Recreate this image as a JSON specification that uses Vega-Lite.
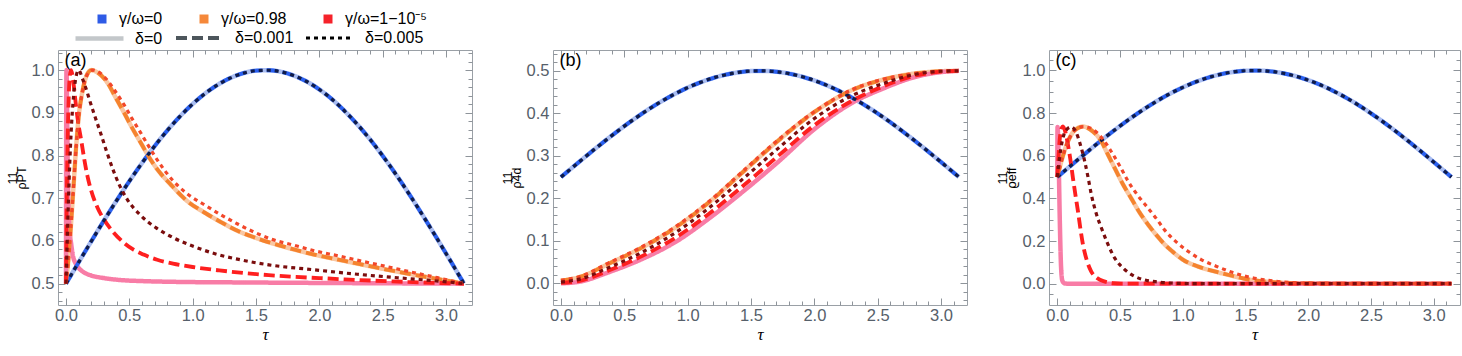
{
"$schema": "https://vega.github.io/schema/vega-lite/v6.json",
"background": "white",
"padding": {"left": 5, "top": 10, "right": 5, "bottom": 0},
"spacing": 27,
"config": {"view": {"stroke": "#9aa0a6", "strokeWidth": 1}},
"datasets": {
"ser": [{"s":"1b","d":"δ=0"},{"s":"1o","d":"δ=0"},{"s":"1r","d":"δ=0"},{"s":"2b","d":"δ=0.001"},{"s":"2o","d":"δ=0.001"},{"s":"2r","d":"δ=0.001"},{"s":"3b","d":"δ=0.005"},{"s":"3o","d":"δ=0.005"},{"s":"3r","d":"δ=0.005"}],
"a": [
{"s":"1b","t":0,"v":0.5},{"s":"1b","t":0.1,"v":0.5499},{"s":"1b","t":0.2,"v":0.5993},{"s":"1b","t":0.3,"v":0.6478},{"s":"1b","t":0.4,"v":0.6947},{"s":"1b","t":0.5,"v":0.7397},{"s":"1b","t":0.6,"v":0.7823},{"s":"1b","t":0.7,"v":0.8221},{"s":"1b","t":0.8,"v":0.8587},{"s":"1b","t":0.9,"v":0.8917},{"s":"1b","t":1,"v":0.9207},{"s":"1b","t":1.1,"v":0.9456},{"s":"1b","t":1.2,"v":0.966},{"s":"1b","t":1.3,"v":0.9818},{"s":"1b","t":1.4,"v":0.9927},{"s":"1b","t":1.5,"v":0.9987},{"s":"1b","t":1.6,"v":0.9996},{"s":"1b","t":1.7,"v":0.9958},{"s":"1b","t":1.8,"v":0.9869},{"s":"1b","t":1.9,"v":0.9732},{"s":"1b","t":2,"v":0.9546},{"s":"1b","t":2.1,"v":0.9316},{"s":"1b","t":2.2,"v":0.9041},{"s":"1b","t":2.3,"v":0.8728},{"s":"1b","t":2.4,"v":0.8378},{"s":"1b","t":2.5,"v":0.7992},{"s":"1b","t":2.6,"v":0.7578},{"s":"1b","t":2.7,"v":0.7137},{"s":"1b","t":2.8,"v":0.6675},{"s":"1b","t":2.9,"v":0.6196},{"s":"1b","t":3,"v":0.5706},{"s":"1b","t":3.1,"v":0.5208},{"s":"1b","t":3.1416,"v":0.5},
{"s":"1o","t":0,"v":0.5},{"s":"1o","t":0.02,"v":0.56},{"s":"1o","t":0.04,"v":0.64},{"s":"1o","t":0.06,"v":0.73},{"s":"1o","t":0.08,"v":0.82},{"s":"1o","t":0.1,"v":0.89},{"s":"1o","t":0.13,"v":0.95},{"s":"1o","t":0.16,"v":0.985},{"s":"1o","t":0.2,"v":1.0},{"s":"1o","t":0.25,"v":0.994},{"s":"1o","t":0.328,"v":0.97},{"s":"1o","t":0.39,"v":0.937},{"s":"1o","t":0.459,"v":0.9},{"s":"1o","t":0.52,"v":0.866},{"s":"1o","t":0.59,"v":0.83},{"s":"1o","t":0.65,"v":0.799},{"s":"1o","t":0.72,"v":0.768},{"s":"1o","t":0.833,"v":0.73},{"s":"1o","t":0.95,"v":0.695},{"s":"1o","t":1.096,"v":0.666},{"s":"1o","t":1.23,"v":0.643},{"s":"1o","t":1.359,"v":0.623},{"s":"1o","t":1.49,"v":0.608},{"s":"1o","t":1.622,"v":0.595},{"s":"1o","t":1.8,"v":0.58},{"s":"1o","t":1.96,"v":0.568},{"s":"1o","t":2.15,"v":0.556},{"s":"1o","t":2.33,"v":0.545},{"s":"1o","t":2.53,"v":0.533},{"s":"1o","t":2.727,"v":0.522},{"s":"1o","t":2.93,"v":0.511},{"s":"1o","t":3.1416,"v":0.5},
{"s":"1r","t":0,"v":0.5},{"s":"1r","t":0.002,"v":0.9},{"s":"1r","t":0.004,"v":1.0},{"s":"1r","t":0.006,"v":0.98},{"s":"1r","t":0.01,"v":0.87},{"s":"1r","t":0.015,"v":0.75},{"s":"1r","t":0.02,"v":0.68},{"s":"1r","t":0.03,"v":0.62},{"s":"1r","t":0.04,"v":0.595},{"s":"1r","t":0.055,"v":0.565},{"s":"1r","t":0.075,"v":0.548},{"s":"1r","t":0.1,"v":0.537},{"s":"1r","t":0.15,"v":0.525},{"s":"1r","t":0.2,"v":0.519},{"s":"1r","t":0.3,"v":0.513},{"s":"1r","t":0.45,"v":0.508},{"s":"1r","t":0.6,"v":0.506},{"s":"1r","t":0.9,"v":0.504},{"s":"1r","t":1.3,"v":0.503},{"s":"1r","t":1.8,"v":0.502},{"s":"1r","t":2.4,"v":0.501},{"s":"1r","t":3.1416,"v":0.5},
{"s":"2b","t":0,"v":0.5},{"s":"2b","t":0.1,"v":0.5499},{"s":"2b","t":0.2,"v":0.5993},{"s":"2b","t":0.3,"v":0.6478},{"s":"2b","t":0.4,"v":0.6947},{"s":"2b","t":0.5,"v":0.7397},{"s":"2b","t":0.6,"v":0.7823},{"s":"2b","t":0.7,"v":0.8221},{"s":"2b","t":0.8,"v":0.8587},{"s":"2b","t":0.9,"v":0.8917},{"s":"2b","t":1,"v":0.9207},{"s":"2b","t":1.1,"v":0.9456},{"s":"2b","t":1.2,"v":0.966},{"s":"2b","t":1.3,"v":0.9818},{"s":"2b","t":1.4,"v":0.9927},{"s":"2b","t":1.5,"v":0.9987},{"s":"2b","t":1.6,"v":0.9996},{"s":"2b","t":1.7,"v":0.9958},{"s":"2b","t":1.8,"v":0.9869},{"s":"2b","t":1.9,"v":0.9732},{"s":"2b","t":2,"v":0.9546},{"s":"2b","t":2.1,"v":0.9316},{"s":"2b","t":2.2,"v":0.9041},{"s":"2b","t":2.3,"v":0.8728},{"s":"2b","t":2.4,"v":0.8378},{"s":"2b","t":2.5,"v":0.7992},{"s":"2b","t":2.6,"v":0.7578},{"s":"2b","t":2.7,"v":0.7137},{"s":"2b","t":2.8,"v":0.6675},{"s":"2b","t":2.9,"v":0.6196},{"s":"2b","t":3,"v":0.5706},{"s":"2b","t":3.1,"v":0.5208},{"s":"2b","t":3.1416,"v":0.5},
{"s":"2o","t":0,"v":0.5},{"s":"2o","t":0.02,"v":0.56},{"s":"2o","t":0.04,"v":0.64},{"s":"2o","t":0.06,"v":0.73},{"s":"2o","t":0.08,"v":0.82},{"s":"2o","t":0.1,"v":0.89},{"s":"2o","t":0.13,"v":0.95},{"s":"2o","t":0.16,"v":0.985},{"s":"2o","t":0.2,"v":1.0},{"s":"2o","t":0.25,"v":0.994},{"s":"2o","t":0.328,"v":0.97},{"s":"2o","t":0.39,"v":0.937},{"s":"2o","t":0.459,"v":0.9},{"s":"2o","t":0.52,"v":0.866},{"s":"2o","t":0.59,"v":0.83},{"s":"2o","t":0.65,"v":0.799},{"s":"2o","t":0.72,"v":0.768},{"s":"2o","t":0.833,"v":0.73},{"s":"2o","t":0.95,"v":0.695},{"s":"2o","t":1.096,"v":0.666},{"s":"2o","t":1.23,"v":0.643},{"s":"2o","t":1.359,"v":0.623},{"s":"2o","t":1.49,"v":0.608},{"s":"2o","t":1.622,"v":0.595},{"s":"2o","t":1.8,"v":0.58},{"s":"2o","t":1.96,"v":0.568},{"s":"2o","t":2.15,"v":0.556},{"s":"2o","t":2.33,"v":0.545},{"s":"2o","t":2.53,"v":0.533},{"s":"2o","t":2.727,"v":0.522},{"s":"2o","t":2.93,"v":0.511},{"s":"2o","t":3.1416,"v":0.5},
{"s":"2r","t":0,"v":0.5},{"s":"2r","t":0.005,"v":0.66},{"s":"2r","t":0.01,"v":0.78},{"s":"2r","t":0.02,"v":0.92},{"s":"2r","t":0.03,"v":0.985},{"s":"2r","t":0.04,"v":1.0},{"s":"2r","t":0.05,"v":0.99},{"s":"2r","t":0.065,"v":0.955},{"s":"2r","t":0.08,"v":0.914},{"s":"2r","t":0.1,"v":0.87},{"s":"2r","t":0.12,"v":0.836},{"s":"2r","t":0.145,"v":0.79},{"s":"2r","t":0.17,"v":0.751},{"s":"2r","t":0.2,"v":0.717},{"s":"2r","t":0.25,"v":0.677},{"s":"2r","t":0.3,"v":0.65},{"s":"2r","t":0.375,"v":0.62},{"s":"2r","t":0.456,"v":0.596},{"s":"2r","t":0.53,"v":0.58},{"s":"2r","t":0.612,"v":0.568},{"s":"2r","t":0.72,"v":0.556},{"s":"2r","t":0.845,"v":0.547},{"s":"2r","t":1.0,"v":0.539},{"s":"2r","t":1.21,"v":0.531},{"s":"2r","t":1.4,"v":0.525},{"s":"2r","t":1.6,"v":0.52},{"s":"2r","t":1.8,"v":0.516},{"s":"2r","t":2.0,"v":0.513},{"s":"2r","t":2.2,"v":0.51},{"s":"2r","t":2.43,"v":0.507},{"s":"2r","t":2.7,"v":0.504},{"s":"2r","t":2.9,"v":0.502},{"s":"2r","t":3.1416,"v":0.5},
{"s":"3b","t":0,"v":0.5},{"s":"3b","t":0.1,"v":0.5499},{"s":"3b","t":0.2,"v":0.5993},{"s":"3b","t":0.3,"v":0.6478},{"s":"3b","t":0.4,"v":0.6947},{"s":"3b","t":0.5,"v":0.7397},{"s":"3b","t":0.6,"v":0.7823},{"s":"3b","t":0.7,"v":0.8221},{"s":"3b","t":0.8,"v":0.8587},{"s":"3b","t":0.9,"v":0.8917},{"s":"3b","t":1,"v":0.9207},{"s":"3b","t":1.1,"v":0.9456},{"s":"3b","t":1.2,"v":0.966},{"s":"3b","t":1.3,"v":0.9818},{"s":"3b","t":1.4,"v":0.9927},{"s":"3b","t":1.5,"v":0.9987},{"s":"3b","t":1.6,"v":0.9996},{"s":"3b","t":1.7,"v":0.9958},{"s":"3b","t":1.8,"v":0.9869},{"s":"3b","t":1.9,"v":0.9732},{"s":"3b","t":2,"v":0.9546},{"s":"3b","t":2.1,"v":0.9316},{"s":"3b","t":2.2,"v":0.9041},{"s":"3b","t":2.3,"v":0.8728},{"s":"3b","t":2.4,"v":0.8378},{"s":"3b","t":2.5,"v":0.7992},{"s":"3b","t":2.6,"v":0.7578},{"s":"3b","t":2.7,"v":0.7137},{"s":"3b","t":2.8,"v":0.6675},{"s":"3b","t":2.9,"v":0.6196},{"s":"3b","t":3,"v":0.5706},{"s":"3b","t":3.1,"v":0.5208},{"s":"3b","t":3.1416,"v":0.5},
{"s":"3o","t":0,"v":0.5},{"s":"3o","t":0.02,"v":0.56},{"s":"3o","t":0.04,"v":0.64},{"s":"3o","t":0.06,"v":0.73},{"s":"3o","t":0.08,"v":0.82},{"s":"3o","t":0.1,"v":0.89},{"s":"3o","t":0.13,"v":0.95},{"s":"3o","t":0.16,"v":0.985},{"s":"3o","t":0.21,"v":1.0},{"s":"3o","t":0.26,"v":0.995},{"s":"3o","t":0.33,"v":0.975},{"s":"3o","t":0.39,"v":0.95},{"s":"3o","t":0.46,"v":0.918},{"s":"3o","t":0.52,"v":0.887},{"s":"3o","t":0.59,"v":0.853},{"s":"3o","t":0.65,"v":0.823},{"s":"3o","t":0.72,"v":0.79},{"s":"3o","t":0.833,"v":0.745},{"s":"3o","t":0.95,"v":0.712},{"s":"3o","t":1.096,"v":0.684},{"s":"3o","t":1.23,"v":0.66},{"s":"3o","t":1.359,"v":0.639},{"s":"3o","t":1.49,"v":0.62},{"s":"3o","t":1.622,"v":0.604},{"s":"3o","t":1.8,"v":0.59},{"s":"3o","t":1.96,"v":0.577},{"s":"3o","t":2.15,"v":0.565},{"s":"3o","t":2.33,"v":0.553},{"s":"3o","t":2.53,"v":0.54},{"s":"3o","t":2.727,"v":0.527},{"s":"3o","t":2.93,"v":0.514},{"s":"3o","t":3.1416,"v":0.5},
{"s":"3r","t":0,"v":0.5},{"s":"3r","t":0.01,"v":0.6},{"s":"3r","t":0.02,"v":0.7},{"s":"3r","t":0.04,"v":0.85},{"s":"3r","t":0.06,"v":0.94},{"s":"3r","t":0.08,"v":0.985},{"s":"3r","t":0.1,"v":1.0},{"s":"3r","t":0.13,"v":0.98},{"s":"3r","t":0.16,"v":0.955},{"s":"3r","t":0.186,"v":0.93},{"s":"3r","t":0.23,"v":0.89},{"s":"3r","t":0.274,"v":0.852},{"s":"3r","t":0.32,"v":0.81},{"s":"3r","t":0.37,"v":0.768},{"s":"3r","t":0.42,"v":0.732},{"s":"3r","t":0.482,"v":0.698},{"s":"3r","t":0.585,"v":0.661},{"s":"3r","t":0.715,"v":0.63},{"s":"3r","t":0.858,"v":0.606},{"s":"3r","t":1.0,"v":0.588},{"s":"3r","t":1.2,"v":0.568},{"s":"3r","t":1.343,"v":0.558},{"s":"3r","t":1.6,"v":0.544},{"s":"3r","t":1.94,"v":0.533},{"s":"3r","t":2.3,"v":0.522},{"s":"3r","t":2.69,"v":0.512},{"s":"3r","t":2.9,"v":0.507},{"s":"3r","t":3.1416,"v":0.5}
],
"b": [
{"s":"1b","t":0,"v":0.25},{"s":"1b","t":0.1,"v":0.275},{"s":"1b","t":0.2,"v":0.2997},{"s":"1b","t":0.3,"v":0.3239},{"s":"1b","t":0.4,"v":0.3474},{"s":"1b","t":0.5,"v":0.3699},{"s":"1b","t":0.6,"v":0.3912},{"s":"1b","t":0.7,"v":0.4111},{"s":"1b","t":0.8,"v":0.4293},{"s":"1b","t":0.9,"v":0.4458},{"s":"1b","t":1,"v":0.4604},{"s":"1b","t":1.1,"v":0.4728},{"s":"1b","t":1.2,"v":0.483},{"s":"1b","t":1.3,"v":0.4909},{"s":"1b","t":1.4,"v":0.4964},{"s":"1b","t":1.5,"v":0.4994},{"s":"1b","t":1.6,"v":0.4998},{"s":"1b","t":1.7,"v":0.4979},{"s":"1b","t":1.8,"v":0.4935},{"s":"1b","t":1.9,"v":0.4866},{"s":"1b","t":2,"v":0.4773},{"s":"1b","t":2.1,"v":0.4658},{"s":"1b","t":2.2,"v":0.4521},{"s":"1b","t":2.3,"v":0.4364},{"s":"1b","t":2.4,"v":0.4189},{"s":"1b","t":2.5,"v":0.3996},{"s":"1b","t":2.6,"v":0.3789},{"s":"1b","t":2.7,"v":0.3568},{"s":"1b","t":2.8,"v":0.3337},{"s":"1b","t":2.9,"v":0.3098},{"s":"1b","t":3,"v":0.2853},{"s":"1b","t":3.1,"v":0.2604},{"s":"1b","t":3.1416,"v":0.25},
{"s":"1o","t":0,"v":0.006},{"s":"1o","t":0.15,"v":0.015},{"s":"1o","t":0.376,"v":0.046},{"s":"1o","t":0.639,"v":0.084},{"s":"1o","t":0.902,"v":0.131},{"s":"1o","t":1.166,"v":0.19},{"s":"1o","t":1.429,"v":0.26},{"s":"1o","t":1.7,"v":0.332},{"s":"1o","t":2.01,"v":0.405},{"s":"1o","t":2.3,"v":0.455},{"s":"1o","t":2.54,"v":0.479},{"s":"1o","t":2.8,"v":0.494},{"s":"1o","t":3.0,"v":0.499},{"s":"1o","t":3.1416,"v":0.5},
{"s":"1r","t":0,"v":0.0},{"s":"1r","t":0.15,"v":0.004},{"s":"1r","t":0.376,"v":0.026},{"s":"1r","t":0.639,"v":0.057},{"s":"1r","t":0.902,"v":0.097},{"s":"1r","t":1.166,"v":0.152},{"s":"1r","t":1.429,"v":0.214},{"s":"1r","t":1.7,"v":0.282},{"s":"1r","t":2.01,"v":0.365},{"s":"1r","t":2.3,"v":0.425},{"s":"1r","t":2.54,"v":0.458},{"s":"1r","t":2.8,"v":0.486},{"s":"1r","t":3.0,"v":0.497},{"s":"1r","t":3.1416,"v":0.5},
{"s":"2b","t":0,"v":0.25},{"s":"2b","t":0.1,"v":0.275},{"s":"2b","t":0.2,"v":0.2997},{"s":"2b","t":0.3,"v":0.3239},{"s":"2b","t":0.4,"v":0.3474},{"s":"2b","t":0.5,"v":0.3699},{"s":"2b","t":0.6,"v":0.3912},{"s":"2b","t":0.7,"v":0.4111},{"s":"2b","t":0.8,"v":0.4293},{"s":"2b","t":0.9,"v":0.4458},{"s":"2b","t":1,"v":0.4604},{"s":"2b","t":1.1,"v":0.4728},{"s":"2b","t":1.2,"v":0.483},{"s":"2b","t":1.3,"v":0.4909},{"s":"2b","t":1.4,"v":0.4964},{"s":"2b","t":1.5,"v":0.4994},{"s":"2b","t":1.6,"v":0.4998},{"s":"2b","t":1.7,"v":0.4979},{"s":"2b","t":1.8,"v":0.4935},{"s":"2b","t":1.9,"v":0.4866},{"s":"2b","t":2,"v":0.4773},{"s":"2b","t":2.1,"v":0.4658},{"s":"2b","t":2.2,"v":0.4521},{"s":"2b","t":2.3,"v":0.4364},{"s":"2b","t":2.4,"v":0.4189},{"s":"2b","t":2.5,"v":0.3996},{"s":"2b","t":2.6,"v":0.3789},{"s":"2b","t":2.7,"v":0.3568},{"s":"2b","t":2.8,"v":0.3337},{"s":"2b","t":2.9,"v":0.3098},{"s":"2b","t":3,"v":0.2853},{"s":"2b","t":3.1,"v":0.2604},{"s":"2b","t":3.1416,"v":0.25},
{"s":"2o","t":0,"v":0.006},{"s":"2o","t":0.15,"v":0.015},{"s":"2o","t":0.376,"v":0.046},{"s":"2o","t":0.639,"v":0.084},{"s":"2o","t":0.902,"v":0.131},{"s":"2o","t":1.166,"v":0.19},{"s":"2o","t":1.429,"v":0.26},{"s":"2o","t":1.7,"v":0.332},{"s":"2o","t":2.01,"v":0.405},{"s":"2o","t":2.3,"v":0.455},{"s":"2o","t":2.54,"v":0.479},{"s":"2o","t":2.8,"v":0.494},{"s":"2o","t":3.0,"v":0.499},{"s":"2o","t":3.1416,"v":0.5},
{"s":"2r","t":0,"v":0.001},{"s":"2r","t":0.15,"v":0.006},{"s":"2r","t":0.376,"v":0.03},{"s":"2r","t":0.639,"v":0.064},{"s":"2r","t":0.902,"v":0.107},{"s":"2r","t":1.166,"v":0.163},{"s":"2r","t":1.429,"v":0.227},{"s":"2r","t":1.7,"v":0.296},{"s":"2r","t":2.01,"v":0.374},{"s":"2r","t":2.3,"v":0.43},{"s":"2r","t":2.54,"v":0.463},{"s":"2r","t":2.8,"v":0.489},{"s":"2r","t":3.0,"v":0.498},{"s":"2r","t":3.1416,"v":0.5},
{"s":"3b","t":0,"v":0.25},{"s":"3b","t":0.1,"v":0.275},{"s":"3b","t":0.2,"v":0.2997},{"s":"3b","t":0.3,"v":0.3239},{"s":"3b","t":0.4,"v":0.3474},{"s":"3b","t":0.5,"v":0.3699},{"s":"3b","t":0.6,"v":0.3912},{"s":"3b","t":0.7,"v":0.4111},{"s":"3b","t":0.8,"v":0.4293},{"s":"3b","t":0.9,"v":0.4458},{"s":"3b","t":1,"v":0.4604},{"s":"3b","t":1.1,"v":0.4728},{"s":"3b","t":1.2,"v":0.483},{"s":"3b","t":1.3,"v":0.4909},{"s":"3b","t":1.4,"v":0.4964},{"s":"3b","t":1.5,"v":0.4994},{"s":"3b","t":1.6,"v":0.4998},{"s":"3b","t":1.7,"v":0.4979},{"s":"3b","t":1.8,"v":0.4935},{"s":"3b","t":1.9,"v":0.4866},{"s":"3b","t":2,"v":0.4773},{"s":"3b","t":2.1,"v":0.4658},{"s":"3b","t":2.2,"v":0.4521},{"s":"3b","t":2.3,"v":0.4364},{"s":"3b","t":2.4,"v":0.4189},{"s":"3b","t":2.5,"v":0.3996},{"s":"3b","t":2.6,"v":0.3789},{"s":"3b","t":2.7,"v":0.3568},{"s":"3b","t":2.8,"v":0.3337},{"s":"3b","t":2.9,"v":0.3098},{"s":"3b","t":3,"v":0.2853},{"s":"3b","t":3.1,"v":0.2604},{"s":"3b","t":3.1416,"v":0.25},
{"s":"3o","t":0,"v":0.007},{"s":"3o","t":0.15,"v":0.016},{"s":"3o","t":0.376,"v":0.048},{"s":"3o","t":0.639,"v":0.086},{"s":"3o","t":0.902,"v":0.133},{"s":"3o","t":1.166,"v":0.192},{"s":"3o","t":1.429,"v":0.262},{"s":"3o","t":1.7,"v":0.334},{"s":"3o","t":2.01,"v":0.406},{"s":"3o","t":2.3,"v":0.456},{"s":"3o","t":2.54,"v":0.48},{"s":"3o","t":2.8,"v":0.494},{"s":"3o","t":3.0,"v":0.499},{"s":"3o","t":3.1416,"v":0.5},
{"s":"3r","t":0,"v":0.003},{"s":"3r","t":0.15,"v":0.01},{"s":"3r","t":0.376,"v":0.037},{"s":"3r","t":0.639,"v":0.073},{"s":"3r","t":0.902,"v":0.119},{"s":"3r","t":1.166,"v":0.177},{"s":"3r","t":1.429,"v":0.244},{"s":"3r","t":1.7,"v":0.314},{"s":"3r","t":2.01,"v":0.39},{"s":"3r","t":2.3,"v":0.442},{"s":"3r","t":2.54,"v":0.47},{"s":"3r","t":2.8,"v":0.492},{"s":"3r","t":3.0,"v":0.499},{"s":"3r","t":3.1416,"v":0.5}
],
"c": [
{"s":"1b","t":0,"v":0.5},{"s":"1b","t":0.1,"v":0.5499},{"s":"1b","t":0.2,"v":0.5993},{"s":"1b","t":0.3,"v":0.6478},{"s":"1b","t":0.4,"v":0.6947},{"s":"1b","t":0.5,"v":0.7397},{"s":"1b","t":0.6,"v":0.7823},{"s":"1b","t":0.7,"v":0.8221},{"s":"1b","t":0.8,"v":0.8587},{"s":"1b","t":0.9,"v":0.8917},{"s":"1b","t":1,"v":0.9207},{"s":"1b","t":1.1,"v":0.9456},{"s":"1b","t":1.2,"v":0.966},{"s":"1b","t":1.3,"v":0.9818},{"s":"1b","t":1.4,"v":0.9927},{"s":"1b","t":1.5,"v":0.9987},{"s":"1b","t":1.6,"v":0.9996},{"s":"1b","t":1.7,"v":0.9958},{"s":"1b","t":1.8,"v":0.9869},{"s":"1b","t":1.9,"v":0.9732},{"s":"1b","t":2,"v":0.9546},{"s":"1b","t":2.1,"v":0.9316},{"s":"1b","t":2.2,"v":0.9041},{"s":"1b","t":2.3,"v":0.8728},{"s":"1b","t":2.4,"v":0.8378},{"s":"1b","t":2.5,"v":0.7992},{"s":"1b","t":2.6,"v":0.7578},{"s":"1b","t":2.7,"v":0.7137},{"s":"1b","t":2.8,"v":0.6675},{"s":"1b","t":2.9,"v":0.6196},{"s":"1b","t":3,"v":0.5706},{"s":"1b","t":3.1,"v":0.5208},{"s":"1b","t":3.1416,"v":0.5},
{"s":"1o","t":0,"v":0.5},{"s":"1o","t":0.032,"v":0.573},{"s":"1o","t":0.085,"v":0.667},{"s":"1o","t":0.14,"v":0.72},{"s":"1o","t":0.205,"v":0.737},{"s":"1o","t":0.27,"v":0.72},{"s":"1o","t":0.352,"v":0.667},{"s":"1o","t":0.4,"v":0.61},{"s":"1o","t":0.458,"v":0.542},{"s":"1o","t":0.52,"v":0.47},{"s":"1o","t":0.59,"v":0.4},{"s":"1o","t":0.655,"v":0.335},{"s":"1o","t":0.724,"v":0.277},{"s":"1o","t":0.79,"v":0.228},{"s":"1o","t":0.858,"v":0.183},{"s":"1o","t":0.92,"v":0.15},{"s":"1o","t":1.0,"v":0.113},{"s":"1o","t":1.124,"v":0.08},{"s":"1o","t":1.27,"v":0.055},{"s":"1o","t":1.4,"v":0.036},{"s":"1o","t":1.537,"v":0.018},{"s":"1o","t":1.7,"v":0.008},{"s":"1o","t":1.8,"v":0.004},{"s":"1o","t":2.0,"v":0.001},{"s":"1o","t":2.3,"v":0},{"s":"1o","t":3.1416,"v":0},
{"s":"1r","t":0,"v":0.5},{"s":"1r","t":0.002,"v":0.735},{"s":"1r","t":0.006,"v":0.7},{"s":"1r","t":0.012,"v":0.55},{"s":"1r","t":0.02,"v":0.3},{"s":"1r","t":0.03,"v":0.08},{"s":"1r","t":0.04,"v":0.015},{"s":"1r","t":0.055,"v":0.002},{"s":"1r","t":0.08,"v":0},{"s":"1r","t":0.5,"v":0},{"s":"1r","t":1.5,"v":0},{"s":"1r","t":2.5,"v":0},{"s":"1r","t":3.1416,"v":0},
{"s":"2b","t":0,"v":0.5},{"s":"2b","t":0.1,"v":0.5499},{"s":"2b","t":0.2,"v":0.5993},{"s":"2b","t":0.3,"v":0.6478},{"s":"2b","t":0.4,"v":0.6947},{"s":"2b","t":0.5,"v":0.7397},{"s":"2b","t":0.6,"v":0.7823},{"s":"2b","t":0.7,"v":0.8221},{"s":"2b","t":0.8,"v":0.8587},{"s":"2b","t":0.9,"v":0.8917},{"s":"2b","t":1,"v":0.9207},{"s":"2b","t":1.1,"v":0.9456},{"s":"2b","t":1.2,"v":0.966},{"s":"2b","t":1.3,"v":0.9818},{"s":"2b","t":1.4,"v":0.9927},{"s":"2b","t":1.5,"v":0.9987},{"s":"2b","t":1.6,"v":0.9996},{"s":"2b","t":1.7,"v":0.9958},{"s":"2b","t":1.8,"v":0.9869},{"s":"2b","t":1.9,"v":0.9732},{"s":"2b","t":2,"v":0.9546},{"s":"2b","t":2.1,"v":0.9316},{"s":"2b","t":2.2,"v":0.9041},{"s":"2b","t":2.3,"v":0.8728},{"s":"2b","t":2.4,"v":0.8378},{"s":"2b","t":2.5,"v":0.7992},{"s":"2b","t":2.6,"v":0.7578},{"s":"2b","t":2.7,"v":0.7137},{"s":"2b","t":2.8,"v":0.6675},{"s":"2b","t":2.9,"v":0.6196},{"s":"2b","t":3,"v":0.5706},{"s":"2b","t":3.1,"v":0.5208},{"s":"2b","t":3.1416,"v":0.5},
{"s":"2o","t":0,"v":0.5},{"s":"2o","t":0.032,"v":0.573},{"s":"2o","t":0.085,"v":0.667},{"s":"2o","t":0.14,"v":0.72},{"s":"2o","t":0.205,"v":0.737},{"s":"2o","t":0.27,"v":0.72},{"s":"2o","t":0.352,"v":0.667},{"s":"2o","t":0.4,"v":0.61},{"s":"2o","t":0.458,"v":0.542},{"s":"2o","t":0.52,"v":0.47},{"s":"2o","t":0.59,"v":0.4},{"s":"2o","t":0.655,"v":0.335},{"s":"2o","t":0.724,"v":0.277},{"s":"2o","t":0.79,"v":0.228},{"s":"2o","t":0.858,"v":0.183},{"s":"2o","t":0.92,"v":0.15},{"s":"2o","t":1.0,"v":0.113},{"s":"2o","t":1.124,"v":0.08},{"s":"2o","t":1.27,"v":0.055},{"s":"2o","t":1.4,"v":0.036},{"s":"2o","t":1.537,"v":0.018},{"s":"2o","t":1.7,"v":0.008},{"s":"2o","t":1.8,"v":0.004},{"s":"2o","t":2.0,"v":0.001},{"s":"2o","t":2.3,"v":0},{"s":"2o","t":3.1416,"v":0},
{"s":"2r","t":0,"v":0.5},{"s":"2r","t":0.01,"v":0.6},{"s":"2r","t":0.02,"v":0.68},{"s":"2r","t":0.035,"v":0.73},{"s":"2r","t":0.045,"v":0.737},{"s":"2r","t":0.065,"v":0.71},{"s":"2r","t":0.085,"v":0.652},{"s":"2r","t":0.105,"v":0.58},{"s":"2r","t":0.125,"v":0.495},{"s":"2r","t":0.145,"v":0.415},{"s":"2r","t":0.165,"v":0.339},{"s":"2r","t":0.185,"v":0.255},{"s":"2r","t":0.205,"v":0.183},{"s":"2r","t":0.235,"v":0.11},{"s":"2r","t":0.27,"v":0.058},{"s":"2r","t":0.32,"v":0.025},{"s":"2r","t":0.38,"v":0.01},{"s":"2r","t":0.45,"v":0.002},{"s":"2r","t":0.51,"v":0},{"s":"2r","t":1.0,"v":0},{"s":"2r","t":2.0,"v":0},{"s":"2r","t":3.1416,"v":0},
{"s":"3b","t":0,"v":0.5},{"s":"3b","t":0.1,"v":0.5499},{"s":"3b","t":0.2,"v":0.5993},{"s":"3b","t":0.3,"v":0.6478},{"s":"3b","t":0.4,"v":0.6947},{"s":"3b","t":0.5,"v":0.7397},{"s":"3b","t":0.6,"v":0.7823},{"s":"3b","t":0.7,"v":0.8221},{"s":"3b","t":0.8,"v":0.8587},{"s":"3b","t":0.9,"v":0.8917},{"s":"3b","t":1,"v":0.9207},{"s":"3b","t":1.1,"v":0.9456},{"s":"3b","t":1.2,"v":0.966},{"s":"3b","t":1.3,"v":0.9818},{"s":"3b","t":1.4,"v":0.9927},{"s":"3b","t":1.5,"v":0.9987},{"s":"3b","t":1.6,"v":0.9996},{"s":"3b","t":1.7,"v":0.9958},{"s":"3b","t":1.8,"v":0.9869},{"s":"3b","t":1.9,"v":0.9732},{"s":"3b","t":2,"v":0.9546},{"s":"3b","t":2.1,"v":0.9316},{"s":"3b","t":2.2,"v":0.9041},{"s":"3b","t":2.3,"v":0.8728},{"s":"3b","t":2.4,"v":0.8378},{"s":"3b","t":2.5,"v":0.7992},{"s":"3b","t":2.6,"v":0.7578},{"s":"3b","t":2.7,"v":0.7137},{"s":"3b","t":2.8,"v":0.6675},{"s":"3b","t":2.9,"v":0.6196},{"s":"3b","t":3,"v":0.5706},{"s":"3b","t":3.1,"v":0.5208},{"s":"3b","t":3.1416,"v":0.5},
{"s":"3o","t":0,"v":0.5},{"s":"3o","t":0.032,"v":0.573},{"s":"3o","t":0.085,"v":0.667},{"s":"3o","t":0.14,"v":0.72},{"s":"3o","t":0.21,"v":0.737},{"s":"3o","t":0.28,"v":0.725},{"s":"3o","t":0.36,"v":0.68},{"s":"3o","t":0.43,"v":0.62},{"s":"3o","t":0.5,"v":0.55},{"s":"3o","t":0.565,"v":0.48},{"s":"3o","t":0.64,"v":0.415},{"s":"3o","t":0.724,"v":0.354},{"s":"3o","t":0.79,"v":0.305},{"s":"3o","t":0.858,"v":0.25},{"s":"3o","t":0.95,"v":0.195},{"s":"3o","t":1.044,"v":0.151},{"s":"3o","t":1.15,"v":0.112},{"s":"3o","t":1.27,"v":0.081},{"s":"3o","t":1.4,"v":0.052},{"s":"3o","t":1.537,"v":0.03},{"s":"3o","t":1.7,"v":0.014},{"s":"3o","t":1.8,"v":0.008},{"s":"3o","t":1.94,"v":0.003},{"s":"3o","t":2.2,"v":0.001},{"s":"3o","t":2.5,"v":0},{"s":"3o","t":3.1416,"v":0},
{"s":"3r","t":0,"v":0.5},{"s":"3r","t":0.02,"v":0.6},{"s":"3r","t":0.04,"v":0.67},{"s":"3r","t":0.07,"v":0.72},{"s":"3r","t":0.112,"v":0.735},{"s":"3r","t":0.15,"v":0.71},{"s":"3r","t":0.185,"v":0.65},{"s":"3r","t":0.219,"v":0.573},{"s":"3r","t":0.245,"v":0.5},{"s":"3r","t":0.272,"v":0.417},{"s":"3r","t":0.31,"v":0.33},{"s":"3r","t":0.352,"v":0.261},{"s":"3r","t":0.4,"v":0.19},{"s":"3r","t":0.458,"v":0.12},{"s":"3r","t":0.53,"v":0.07},{"s":"3r","t":0.618,"v":0.034},{"s":"3r","t":0.7,"v":0.017},{"s":"3r","t":0.8,"v":0.008},{"s":"3r","t":0.99,"v":0.001},{"s":"3r","t":1.2,"v":0},{"s":"3r","t":2.0,"v":0},{"s":"3r","t":3.1416,"v":0}
]
},
"resolve": {"scale": {"x": "independent", "y": "independent", "color": "independent", "strokeDash": "independent", "strokeWidth": "independent", "fill": "independent"}, "legend": {"color": "independent", "strokeDash": "independent", "strokeWidth": "independent", "fill": "independent"}},
"hconcat": [
{
"width": 414, "height": 255,
"data": {"name": "a"},
"layer": [
{
"transform": [{"lookup": "s", "from": {"data": {"name": "ser"}, "key": "s", "fields": ["d"]}}],
"mark": {"type": "line", "interpolate": "monotone", "clip": true},
"encoding": {
"x": {"field": "t", "type": "quantitative", "scale": {"domain": [-0.063, 3.205], "nice": false, "zero": false},
"axis": {"orient": "bottom", "values": [0,0.1,0.2,0.3,0.4,0.5,0.6,0.7,0.8,0.9,1,1.1,1.2,1.3,1.4,1.5,1.6,1.7,1.8,1.9,2,2.1,2.2,2.3,2.4,2.5,2.6,2.7,2.8,2.9,3,3.1], "tickSize": {"condition": {"test": "abs(datum.value*2-round(datum.value*2))<0.000001", "value": -7}, "value": -4}, "labelExpr": "abs(datum.value*2-round(datum.value*2))<0.000001 ? format(datum.value,'.1f') : ''", "tickColor": "#8e949a", "domain": false, "grid": false, "labelFont": "Liberation Sans", "labelFontSize": 16.5, "labelColor": "#56606a", "labelPadding": 9, "labelOverlap": false, "labelFlush": false, "labelBound": false, "title": "τ", "titleFont": "Liberation Serif", "titleFontStyle": "italic", "titleFontWeight": "normal", "titleFontSize": 17, "titleColor": "#000", "titlePadding": 0}},
"y": {"field": "v", "type": "quantitative", "scale": {"domain": [0.45, 1.047], "nice": false, "zero": false},
"axis": {"orient": "left", "values": [0.46,0.48,0.5,0.52,0.54,0.56,0.58,0.6,0.62,0.64,0.66,0.68,0.7,0.72,0.74,0.76,0.78,0.8,0.82,0.84,0.86,0.88,0.9,0.92,0.94,0.96,0.98,1,1.02,1.04], "tickSize": {"condition": {"test": "abs(datum.value*10-round(datum.value*10))<0.000001", "value": -7}, "value": -4}, "labelExpr": "abs(datum.value*10-round(datum.value*10))<0.000001 ? format(datum.value,'.1f') : ''", "tickColor": "#8e949a", "domain": false, "grid": false, "labelFont": "Liberation Sans", "labelFontSize": 16.5, "labelColor": "#56606a", "labelPadding": 11, "labelOverlap": false, "labelFlush": false, "labelBound": false, "title": ["  11", "ρPT"], "titleFont": "Liberation Sans", "titleFontSize": 12.5, "titleFontWeight": "normal", "titleColor": "#000", "titleLineHeight": 9, "titlePadding": 3}},
"color": {"field": "s", "type": "nominal", "scale": {"domain": ["1b","1o","1r","2b","2o","2r","3b","3o","3r"], "range": ["#a9bdf2","#f9c7a2","#f87ca6","#2a60f0","#f5832e","#fe1f1f","#101c48","#f2472a","#7b0d0d"]}, "legend": null},
"strokeDash": {"field": "d", "type": "nominal", "scale": {"domain": ["δ=0","δ=0.001","δ=0.005"], "range": [[1,0],[11,5],[4,4]]},
"legend": {"orient": "none", "legendX": 15, "legendY": -38, "direction": "horizontal", "gridAlign": "none", "title": null, "symbolType": "stroke", "symbolSize": 2304, "symbolStrokeWidth": 3.5, "labelFont": "Liberation Sans", "labelFontSize": 16, "labelColor": "#000", "labelOffset": 9, "columnPadding": 5, "padding": 0,
"encode": {"symbols": {"update": {"stroke": {"signal": "datum.value === 'δ=0' ? '#c3c7ca' : datum.value === 'δ=0.001' ? '#4d565c' : '#000000'"}, "strokeWidth": {"signal": "datum.value === 'δ=0.005' ? 2.2 : 3.8"}}}}}},
"strokeWidth": {"field": "d", "type": "ordinal", "scale": {"domain": ["δ=0","δ=0.001","δ=0.005"], "range": [4.5, 3.2, 1.6]}, "legend": null}
}
},
{
"transform": [{"filter": "false"}],
"mark": {"type": "square", "size": 81},
"encoding": {
"x": {"field": "t", "type": "quantitative", "scale": {"domain": [-0.063, 3.205], "nice": false, "zero": false},
"axis": {"orient": "top", "values": [0,0.1,0.2,0.3,0.4,0.5,0.6,0.7,0.8,0.9,1,1.1,1.2,1.3,1.4,1.5,1.6,1.7,1.8,1.9,2,2.1,2.2,2.3,2.4,2.5,2.6,2.7,2.8,2.9,3,3.1], "tickSize": {"condition": {"test": "abs(datum.value*2-round(datum.value*2))<0.000001", "value": -7}, "value": -4}, "labels": false, "tickColor": "#8e949a", "domain": false, "grid": false, "title": "(a)", "titleX": 6, "titleY": 15, "titleAngle": 0, "titleAlign": "left", "titleBaseline": "alphabetic", "titleFont": "Liberation Sans", "titleFontSize": 18, "titleFontWeight": "normal", "titleColor": "#000"}},
"y": {"field": "v", "type": "quantitative", "scale": {"domain": [0.45, 1.047], "nice": false, "zero": false},
"axis": {"orient": "right", "values": [0.46,0.48,0.5,0.52,0.54,0.56,0.58,0.6,0.62,0.64,0.66,0.68,0.7,0.72,0.74,0.76,0.78,0.8,0.82,0.84,0.86,0.88,0.9,0.92,0.94,0.96,0.98,1,1.02,1.04], "tickSize": {"condition": {"test": "abs(datum.value*10-round(datum.value*10))<0.000001", "value": -7}, "value": -4}, "labels": false, "tickColor": "#8e949a", "domain": false, "grid": false, "title": null}},
"fill": {"field": "g", "type": "nominal", "scale": {"domain": ["γ/ω=0","γ/ω=0.98","γ/ω=1−10⁻⁵"], "range": ["#2e5be6","#f5883a","#f5222a"]},
"legend": {"orient": "none", "legendX": 36, "legendY": -39, "direction": "horizontal", "title": null, "symbolType": "square", "symbolSize": 81, "symbolStrokeWidth": 0, "symbolOpacity": 1, "labelFont": "Liberation Sans", "labelFontSize": 16, "labelColor": "#000", "labelOffset": 9, "columnPadding": 33, "padding": 0}}
}
}
],
"resolve": {"axis": {"x": "independent", "y": "independent"}}
},
{
"width": 414, "height": 255,
"data": {"name": "b"},
"layer": [
{
"transform": [{"lookup": "s", "from": {"data": {"name": "ser"}, "key": "s", "fields": ["d"]}}],
"mark": {"type": "line", "interpolate": "monotone", "clip": true},
"encoding": {
"x": {"field": "t", "type": "quantitative", "scale": {"domain": [-0.063, 3.205], "nice": false, "zero": false},
"axis": {"orient": "bottom", "values": [0,0.1,0.2,0.3,0.4,0.5,0.6,0.7,0.8,0.9,1,1.1,1.2,1.3,1.4,1.5,1.6,1.7,1.8,1.9,2,2.1,2.2,2.3,2.4,2.5,2.6,2.7,2.8,2.9,3,3.1], "tickSize": {"condition": {"test": "abs(datum.value*2-round(datum.value*2))<0.000001", "value": -7}, "value": -4}, "labelExpr": "abs(datum.value*2-round(datum.value*2))<0.000001 ? format(datum.value,'.1f') : ''", "tickColor": "#8e949a", "domain": false, "grid": false, "labelFont": "Liberation Sans", "labelFontSize": 16.5, "labelColor": "#56606a", "labelPadding": 9, "labelOverlap": false, "labelFlush": false, "labelBound": false, "title": "τ", "titleFont": "Liberation Serif", "titleFontStyle": "italic", "titleFontWeight": "normal", "titleFontSize": 17, "titleColor": "#000", "titlePadding": 0}},
"y": {"field": "v", "type": "quantitative", "scale": {"domain": [-0.051, 0.549], "nice": false, "zero": false},
"axis": {"orient": "left", "values": [-0.04,-0.02,0,0.02,0.04,0.06,0.08,0.1,0.12,0.14,0.16,0.18,0.2,0.22,0.24,0.26,0.28,0.3,0.32,0.34,0.36,0.38,0.4,0.42,0.44,0.46,0.48,0.5,0.52,0.54], "tickSize": {"condition": {"test": "abs(datum.value*10-round(datum.value*10))<0.000001", "value": -7}, "value": -4}, "labelExpr": "abs(datum.value*10-round(datum.value*10))<0.000001 ? format(datum.value,'.1f') : ''", "tickColor": "#8e949a", "domain": false, "grid": false, "labelFont": "Liberation Sans", "labelFontSize": 16.5, "labelColor": "#56606a", "labelPadding": 11, "labelOverlap": false, "labelFlush": false, "labelBound": false, "title": ["  11", "ρ̃4d"], "titleFont": "Liberation Sans", "titleFontSize": 12.5, "titleFontWeight": "normal", "titleColor": "#000", "titleLineHeight": 9, "titlePadding": 3}},
"color": {"field": "s", "type": "nominal", "scale": {"domain": ["1b","1o","1r","2b","2o","2r","3b","3o","3r"], "range": ["#a9bdf2","#f9c7a2","#f87ca6","#2a60f0","#f5832e","#fe1f1f","#101c48","#f2472a","#7b0d0d"]}, "legend": null},
"strokeDash": {"field": "d", "type": "nominal", "scale": {"domain": ["δ=0","δ=0.001","δ=0.005"], "range": [[1,0],[11,5],[4,4]]}, "legend": null},
"strokeWidth": {"field": "d", "type": "ordinal", "scale": {"domain": ["δ=0","δ=0.001","δ=0.005"], "range": [4.5, 3.2, 1.6]}, "legend": null}
}
},
{
"transform": [{"filter": "false"}],
"mark": {"type": "square", "size": 81},
"encoding": {
"x": {"field": "t", "type": "quantitative", "scale": {"domain": [-0.063, 3.205], "nice": false, "zero": false},
"axis": {"orient": "top", "values": [0,0.1,0.2,0.3,0.4,0.5,0.6,0.7,0.8,0.9,1,1.1,1.2,1.3,1.4,1.5,1.6,1.7,1.8,1.9,2,2.1,2.2,2.3,2.4,2.5,2.6,2.7,2.8,2.9,3,3.1], "tickSize": {"condition": {"test": "abs(datum.value*2-round(datum.value*2))<0.000001", "value": -7}, "value": -4}, "labels": false, "tickColor": "#8e949a", "domain": false, "grid": false, "title": "(b)", "titleX": 6, "titleY": 15, "titleAngle": 0, "titleAlign": "left", "titleBaseline": "alphabetic", "titleFont": "Liberation Sans", "titleFontSize": 18, "titleFontWeight": "normal", "titleColor": "#000"}},
"y": {"field": "v", "type": "quantitative", "scale": {"domain": [-0.051, 0.549], "nice": false, "zero": false},
"axis": {"orient": "right", "values": [-0.04,-0.02,0,0.02,0.04,0.06,0.08,0.1,0.12,0.14,0.16,0.18,0.2,0.22,0.24,0.26,0.28,0.3,0.32,0.34,0.36,0.38,0.4,0.42,0.44,0.46,0.48,0.5,0.52,0.54], "tickSize": {"condition": {"test": "abs(datum.value*10-round(datum.value*10))<0.000001", "value": -7}, "value": -4}, "labels": false, "tickColor": "#8e949a", "domain": false, "grid": false, "title": null}}
}
}
],
"resolve": {"axis": {"x": "independent", "y": "independent"}}
},
{
"width": 411, "height": 255,
"data": {"name": "c"},
"layer": [
{
"transform": [{"lookup": "s", "from": {"data": {"name": "ser"}, "key": "s", "fields": ["d"]}}],
"mark": {"type": "line", "interpolate": "monotone", "clip": true},
"encoding": {
"x": {"field": "t", "type": "quantitative", "scale": {"domain": [-0.066, 3.21], "nice": false, "zero": false},
"axis": {"orient": "bottom", "values": [0,0.1,0.2,0.3,0.4,0.5,0.6,0.7,0.8,0.9,1,1.1,1.2,1.3,1.4,1.5,1.6,1.7,1.8,1.9,2,2.1,2.2,2.3,2.4,2.5,2.6,2.7,2.8,2.9,3,3.1], "tickSize": {"condition": {"test": "abs(datum.value*2-round(datum.value*2))<0.000001", "value": -7}, "value": -4}, "labelExpr": "abs(datum.value*2-round(datum.value*2))<0.000001 ? format(datum.value,'.1f') : ''", "tickColor": "#8e949a", "domain": false, "grid": false, "labelFont": "Liberation Sans", "labelFontSize": 16.5, "labelColor": "#56606a", "labelPadding": 9, "labelOverlap": false, "labelFlush": false, "labelBound": false, "title": "τ", "titleFont": "Liberation Serif", "titleFontStyle": "italic", "titleFontWeight": "normal", "titleFontSize": 17, "titleColor": "#000", "titlePadding": 0}},
"y": {"field": "v", "type": "quantitative", "scale": {"domain": [-0.1, 1.096], "nice": false, "zero": false},
"axis": {"orient": "left", "values": [-0.05,0,0.05,0.1,0.15,0.2,0.25,0.3,0.35,0.4,0.45,0.5,0.55,0.6,0.65,0.7,0.75,0.8,0.85,0.9,0.95,1,1.05], "tickSize": {"condition": {"test": "abs(datum.value*5-round(datum.value*5))<0.000001", "value": -7}, "value": -4}, "labelExpr": "abs(datum.value*5-round(datum.value*5))<0.000001 ? format(datum.value,'.1f') : ''", "tickColor": "#8e949a", "domain": false, "grid": false, "labelFont": "Liberation Sans", "labelFontSize": 16.5, "labelColor": "#56606a", "labelPadding": 11, "labelOverlap": false, "labelFlush": false, "labelBound": false, "title": ["  11", "ϱeff"], "titleFont": "Liberation Sans", "titleFontSize": 12.5, "titleFontWeight": "normal", "titleColor": "#000", "titleLineHeight": 9, "titlePadding": 4}},
"color": {"field": "s", "type": "nominal", "scale": {"domain": ["1b","1o","1r","2b","2o","2r","3b","3o","3r"], "range": ["#a9bdf2","#f9c7a2","#f87ca6","#2a60f0","#f5832e","#fe1f1f","#101c48","#f2472a","#7b0d0d"]}, "legend": null},
"strokeDash": {"field": "d", "type": "nominal", "scale": {"domain": ["δ=0","δ=0.001","δ=0.005"], "range": [[1,0],[11,5],[4,4]]}, "legend": null},
"strokeWidth": {"field": "d", "type": "ordinal", "scale": {"domain": ["δ=0","δ=0.001","δ=0.005"], "range": [4.5, 3.2, 1.6]}, "legend": null}
}
},
{
"transform": [{"filter": "false"}],
"mark": {"type": "square", "size": 81},
"encoding": {
"x": {"field": "t", "type": "quantitative", "scale": {"domain": [-0.066, 3.21], "nice": false, "zero": false},
"axis": {"orient": "top", "values": [0,0.1,0.2,0.3,0.4,0.5,0.6,0.7,0.8,0.9,1,1.1,1.2,1.3,1.4,1.5,1.6,1.7,1.8,1.9,2,2.1,2.2,2.3,2.4,2.5,2.6,2.7,2.8,2.9,3,3.1], "tickSize": {"condition": {"test": "abs(datum.value*2-round(datum.value*2))<0.000001", "value": -7}, "value": -4}, "labels": false, "tickColor": "#8e949a", "domain": false, "grid": false, "title": "(c)", "titleX": 6, "titleY": 15, "titleAngle": 0, "titleAlign": "left", "titleBaseline": "alphabetic", "titleFont": "Liberation Sans", "titleFontSize": 18, "titleFontWeight": "normal", "titleColor": "#000"}},
"y": {"field": "v", "type": "quantitative", "scale": {"domain": [-0.1, 1.096], "nice": false, "zero": false},
"axis": {"orient": "right", "values": [-0.05,0,0.05,0.1,0.15,0.2,0.25,0.3,0.35,0.4,0.45,0.5,0.55,0.6,0.65,0.7,0.75,0.8,0.85,0.9,0.95,1,1.05], "tickSize": {"condition": {"test": "abs(datum.value*5-round(datum.value*5))<0.000001", "value": -7}, "value": -4}, "labels": false, "tickColor": "#8e949a", "domain": false, "grid": false, "title": null}}
}
}
],
"resolve": {"axis": {"x": "independent", "y": "independent"}}
}
]
}
